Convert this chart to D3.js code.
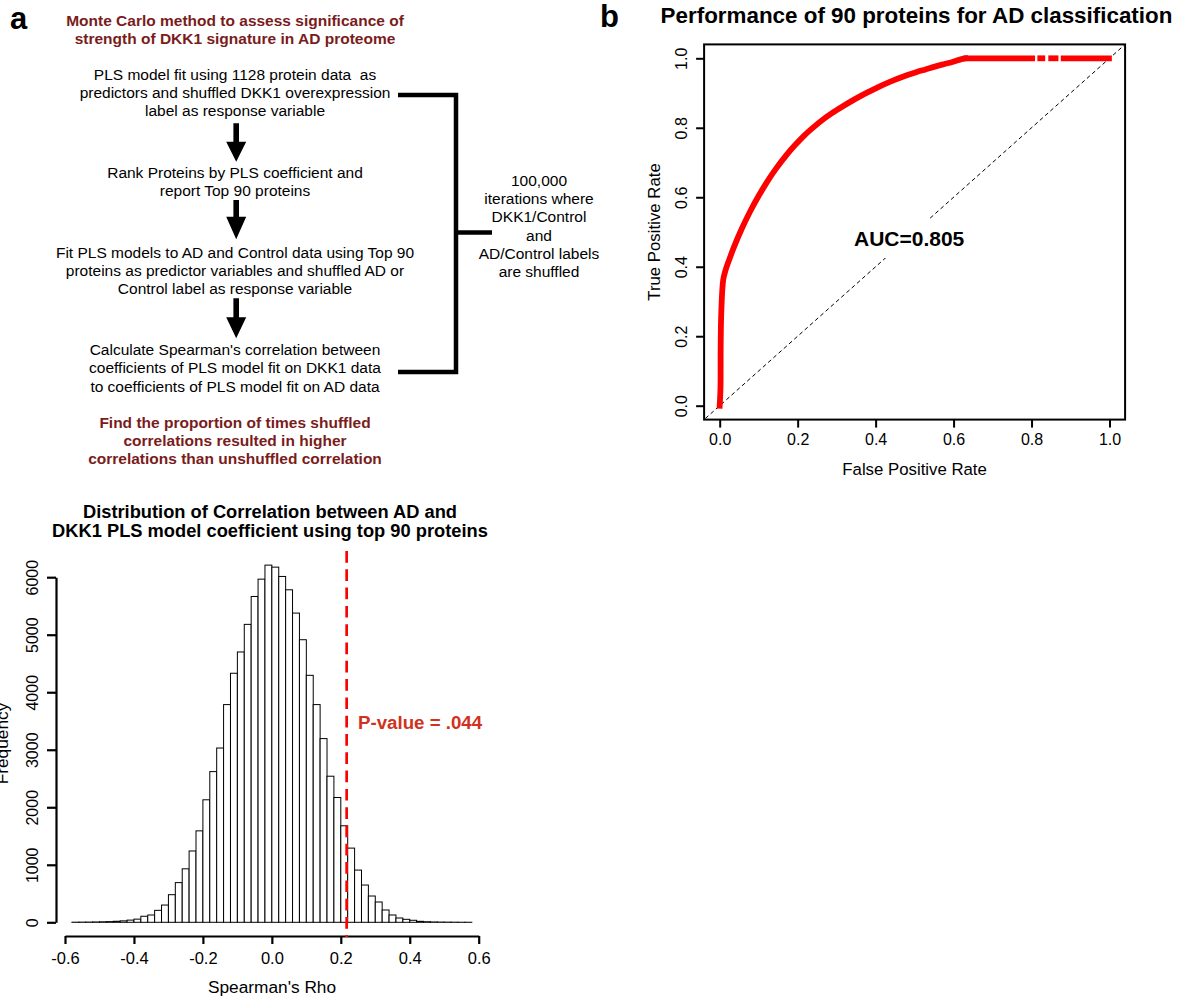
<!DOCTYPE html>
<html><head><meta charset="utf-8">
<script src="https://cdn.jsdelivr.net/npm/d3@7"></script>
<style>
html,body{margin:0;padding:0;background:#fff;}
svg{display:block;font-family:"Liberation Sans",Arial,Helvetica,sans-serif;}
</style></head>
<body>
<svg id="chart" width="1183" height="999"></svg>
<script>
// ---------- DATA ----------
const flowTitle = ["Monte Carlo method to assess significance of", "strength of DKK1 signature in AD proteome"];
const flowSteps = [
  ["PLS model fit using 1128 protein data  as", "predictors and shuffled DKK1 overexpression", "label as response variable"],
  ["Rank Proteins by PLS coefficient and", "report Top 90 proteins"],
  ["Fit PLS models to AD and Control data using Top 90", "proteins as predictor variables and shuffled AD or", "Control label as response variable"],
  ["Calculate Spearman's correlation between", "coefficients of PLS model fit on DKK1 data", "to coefficients of PLS model fit on AD data"]
];
const flowConclusion = ["Find the proportion of times shuffled", "correlations resulted in higher", "correlations than unshuffled correlation"];
const sideNote = ["100,000", "iterations where", "DKK1/Control", "and", "AD/Control labels", "are shuffled"];

// ROC curve (false positive rate, true positive rate)
const rocFPR = [0, 0.002, 0.0025, 0.004, 0.009, 0.015, 0.024, 0.037, 0.056, 0.078, 0.099, 0.122, 0.145, 0.170, 0.194, 0.218, 0.241, 0.265, 0.289, 0.313, 0.337, 0.361, 0.385, 0.408, 0.432, 0.456, 0.480, 0.504, 0.528, 0.552, 0.575, 0.599, 0.618, 0.630];
const rocTPR = [0, 0.050, 0.170, 0.266, 0.362, 0.390, 0.419, 0.458, 0.508, 0.559, 0.602, 0.645, 0.683, 0.720, 0.751, 0.779, 0.802, 0.824, 0.843, 0.860, 0.876, 0.891, 0.905, 0.918, 0.930, 0.941, 0.951, 0.960, 0.968, 0.976, 0.983, 0.990, 0.997, 1.000];
// flat part at TPR = 1 (runs of points with small gaps)
const rocFlatStart = [0.625, 0.815, 0.843, 0.875];
const rocFlatEnd = [0.809, 0.835, 0.869, 1.006];
const rocTicks = [0, 0.2, 0.4, 0.6, 0.8, 1.0];
const aucLabel = "AUC=0.805";
const aucPos = [0.486, 0.483];

// Histogram of Spearman's rho (bins of width 0.02 from -0.58 to 0.58)
const binStart = -0.58, binWidth = 0.02;
const histCounts = [2, 3, 4, 6, 9, 12, 18, 25, 38, 55, 105, 127, 208, 300, 480, 690, 930, 1240, 1590, 2130,
  2620, 3030, 3785, 4330, 4700, 5180, 5665, 5966, 6210, 6175, 6013, 5781, 5376, 4913, 4294, 3785, 3194, 2540, 2170, 1678,
  1290, 908, 648, 457, 353, 214, 127, 75, 52, 35, 17, 10, 6, 4, 3, 2, 1, 1];
const histXTicks = [-0.6, -0.4, -0.2, 0.0, 0.2, 0.4, 0.6];
const histYTicks = [0, 1000, 2000, 3000, 4000, 5000, 6000];
const observedRho = 0.217;
const pLabel = "P-value = .044";

// ---------- DRAW ----------
const svg = d3.select("#chart");
const DARKRED = "#7a1c1c";
const fmt1 = d => d3.format(".1f")(d).replace("\u2212", "-");

// panel letters
svg.append("text").attr("x", 10).attr("y", 29).attr("font-size", 31).attr("font-weight", "bold").text("a");
svg.append("text").attr("x", 600).attr("y", 26.5).attr("font-size", 31).attr("font-weight", "bold").text("b");

// ===== Panel a : flowchart =====
const fx = 235, FS = 15.5, LH = 18.3;
function lines(arr, y0, opts) {
  arr.forEach((t, i) => {
    svg.append("text").attr("x", fx).attr("y", y0 + i * LH)
      .attr("text-anchor", "middle").attr("font-size", FS)
      .attr("font-weight", opts.bold ? "bold" : "normal")
      .attr("fill", opts.color || "#000")
      .style("white-space", "pre").text(t);
  });
}
lines(flowTitle, 26.1, {bold: true, color: DARKRED});
const stepY = [79.5, 177.8, 257.8, 355];
flowSteps.forEach((s, i) => lines(s, stepY[i], {}));
lines(flowConclusion, 427.8, {bold: true, color: DARKRED});

// arrows
const arrows = [[123.3, 141.7, 161.7], [200, 216.7, 239.3], [298.3, 317.3, 338.3]];
arrows.forEach(([a, b, c]) => {
  const ax = 236.2;
  svg.append("path")
    .attr("d", `M${ax - 2.8},${a}H${ax + 2.8}V${b}H${ax + 10}L${ax},${c}L${ax - 10},${b}H${ax - 2.8}Z`)
    .attr("fill", "#000");
});

// bracket
svg.append("path").attr("d", "M398,95H456V372H398").attr("fill", "none").attr("stroke", "#000").attr("stroke-width", 4.5);
svg.append("path").attr("d", "M456,232.5H492").attr("fill", "none").attr("stroke", "#000").attr("stroke-width", 4.5);

sideNote.forEach((t, i) => {
  svg.append("text").attr("x", 539).attr("y", 185.8 + i * 18.3)
    .attr("text-anchor", "middle").attr("font-size", FS).text(t);
});

// ===== Panel b : ROC =====
const rx = d3.scaleLinear().domain([0, 1]).range([719.7, 1109.5]);
const ry = d3.scaleLinear().domain([0, 1]).range([405.7, 58.3]);
const rx0 = rx(-0.04), rx1 = rx(1.04), ry0 = ry(-0.04), ry1 = ry(1.04);

svg.append("defs").append("clipPath").attr("id", "rocClip")
  .append("rect").attr("x", rx0).attr("y", ry1).attr("width", rx1 - rx0).attr("height", ry0 - ry1);

// diagonal
svg.append("line").attr("clip-path", "url(#rocClip)")
  .attr("x1", rx(-0.05)).attr("y1", ry(-0.05)).attr("x2", rx(1.05)).attr("y2", ry(1.05))
  .attr("stroke", "#000").attr("stroke-width", 1).attr("stroke-dasharray", "4,3");

// ROC curve
const rocPts = rocFPR.map((f, i) => [f, rocTPR[i]]);
const lineGen = d3.line().x(d => rx(d[0])).y(d => ry(d[1])).curve(d3.curveCatmullRom.alpha(0.5));
svg.append("path").attr("d", lineGen(rocPts)).attr("fill", "none")
  .attr("stroke", "#ff0000").attr("stroke-width", 5.8).attr("stroke-linecap", "square").attr("stroke-linejoin", "round");
const flatGen = d3.line().x(d => rx(d[0])).y(d => ry(d[1]));
rocFlatStart.forEach((s, i) => {
  svg.append("path").attr("d", flatGen([[s, 1], [rocFlatEnd[i], 1]])).attr("fill", "none")
    .attr("stroke", "#ff0000").attr("stroke-width", 5.8).attr("stroke-linecap", "butt");
});

// AUC label with white background
const aucX = rx(aucPos[0]), aucY = ry(aucPos[1]);
svg.append("rect").attr("x", aucX - 59).attr("y", aucY - 18).attr("width", 118).attr("height", 38).attr("fill", "#fff");
svg.append("text").attr("x", aucX).attr("y", aucY + 8).attr("text-anchor", "middle")
  .attr("font-size", 21).attr("font-weight", "bold").text(aucLabel);

// box
svg.append("rect").attr("x", rx0).attr("y", ry1).attr("width", rx1 - rx0).attr("height", ry0 - ry1)
  .attr("fill", "none").attr("stroke", "#000").attr("stroke-width", 2);

// axes
const rxAxis = svg.append("g").attr("transform", `translate(0,${ry0})`)
  .call(d3.axisBottom(rx).tickValues(rocTicks).tickFormat(fmt1).tickSize(8).tickPadding(6));
rxAxis.select(".domain").remove();
rxAxis.selectAll("line").attr("stroke-width", 2);
rxAxis.selectAll("text").attr("font-size", 16).attr("font-family", null);

const ryAxis = svg.append("g").attr("transform", `translate(${rx0},0)`)
  .call(d3.axisLeft(ry).tickValues(rocTicks).tickFormat(fmt1).tickSize(8));
ryAxis.select(".domain").remove();
ryAxis.selectAll("line").attr("stroke-width", 2);
ryAxis.selectAll("text").attr("font-size", 16).attr("font-family", null)
  .attr("x", null).attr("dy", null)
  .attr("transform", "translate(-23,0) rotate(-90)")
  .attr("text-anchor", "middle").attr("dominant-baseline", "central");

svg.append("text").attr("x", (rx0 + rx1) / 2).attr("y", 475).attr("text-anchor", "middle")
  .attr("font-size", 16.8).text("False Positive Rate");
svg.append("text").attr("transform", `translate(660,${(ry0 + ry1) / 2}) rotate(-90)`).attr("text-anchor", "middle")
  .attr("font-size", 16.8).text("True Positive Rate");
svg.append("text").attr("x", 916.5).attr("y", 23).attr("text-anchor", "middle")
  .attr("font-size", 22.4).attr("font-weight", "bold").text("Performance of 90 proteins for AD classification");

// ===== Histogram =====
const hx = d3.scaleLinear().domain([-0.6, 0.6]).range([65, 478.7]);
const hy = d3.scaleLinear().domain([0, 6000]).range([922.3, 577.2]);

svg.append("g").selectAll("rect").data(histCounts).join("rect")
  .attr("x", (d, i) => hx(binStart + i * binWidth))
  .attr("width", hx(binWidth) - hx(0))
  .attr("y", d => hy(d))
  .attr("height", d => hy(0) - hy(d))
  .attr("fill", "#fff").attr("stroke", "#000").attr("stroke-width", 1);

const hxAxis = svg.append("g").attr("transform", "translate(0,936)")
  .call(d3.axisBottom(hx).tickValues(histXTicks).tickFormat(fmt1).tickSize(8).tickPadding(8).tickSizeOuter(0));
hxAxis.select(".domain").attr("stroke-width", 2.2);
hxAxis.selectAll("line").attr("stroke-width", 2.2);
hxAxis.selectAll("text").attr("font-size", 16.5).attr("font-family", null);

const hyAxis = svg.append("g").attr("transform", "translate(56,0)")
  .call(d3.axisLeft(hy).tickValues(histYTicks).tickFormat(d3.format("d")).tickSize(9).tickSizeOuter(0));
hyAxis.select(".domain").attr("stroke-width", 2.2);
hyAxis.selectAll("line").attr("stroke-width", 2.2);
hyAxis.selectAll("text").attr("font-size", 16).attr("font-family", null)
  .attr("x", null).attr("dy", null)
  .attr("transform", "translate(-24,0) rotate(-90)")
  .attr("text-anchor", "middle").attr("dominant-baseline", "central");

// red dashed line
svg.append("line").attr("x1", hx(observedRho)).attr("x2", hx(observedRho)).attr("y1", 551).attr("y2", 937)
  .attr("stroke", "#ff0000").attr("stroke-width", 2.7).attr("stroke-dasharray", "11.7,6.6");

svg.append("text").attr("x", 358).attr("y", 728.5).attr("font-size", 18.7).attr("font-weight", "bold")
  .attr("fill", "#d0321e").text(pLabel);

// titles and labels
svg.append("text").attr("x", 270).attr("y", 517.5).attr("text-anchor", "middle").attr("font-size", 18.3).attr("font-weight", "bold")
  .text("Distribution of Correlation between AD and");
svg.append("text").attr("x", 270).attr("y", 536.5).attr("text-anchor", "middle").attr("font-size", 18.3).attr("font-weight", "bold")
  .text("DKK1 PLS model coefficient using top 90 proteins");
svg.append("text").attr("x", 272).attr("y", 993).attr("text-anchor", "middle").attr("font-size", 17.3).text("Spearman's Rho");
svg.append("text").attr("transform", "translate(8,743.5) rotate(-90)").attr("text-anchor", "middle")
  .attr("font-size", 17.3).text("Frequency");
</script>
</body></html>
